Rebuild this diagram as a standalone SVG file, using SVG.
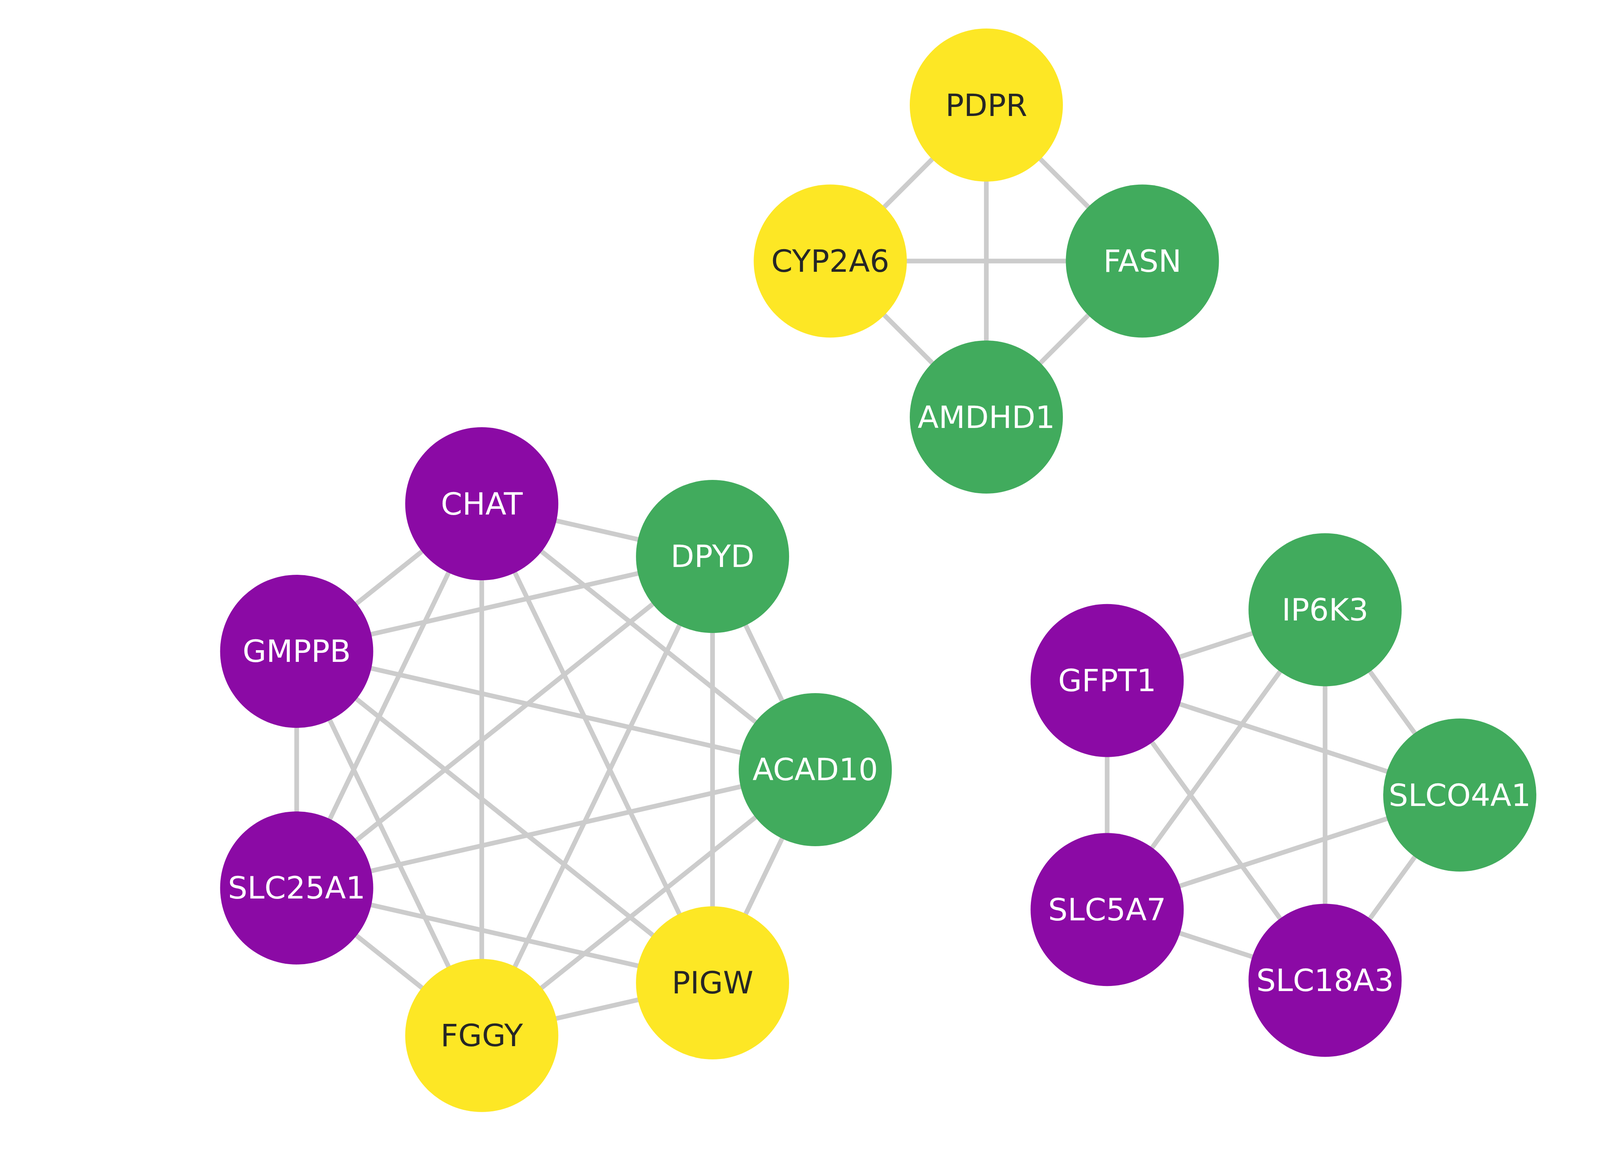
<svg xmlns="http://www.w3.org/2000/svg" width="5175" height="2986" viewBox="0 0 5175 2986">
<style>
  .bg { fill: #ffffff; }
  .edges line { stroke: #cccccc; stroke-width: 12; stroke-linecap: butt; }
  .node circle { stroke: none; }
  .yellow circle { fill: #fde725; }
  .green circle { fill: #41ab5d; }
  .purple circle { fill: #8b0aa5; }
  .node text { font-family: "DejaVu Sans", "Liberation Sans", sans-serif; font-size: 78.5px; text-anchor: middle; }
  .yellow text { fill: #262626; }
  .green text, .purple text { fill: #ffffff; }
</style>
<rect class="bg" x="0" y="0" width="5175" height="2986"/>
<g id="connectors" class="edges">
  <!-- component 1 -->
  <line x1="2525" y1="269" x2="2125.5" y2="668.5"/>
  <line x1="2525" y1="269" x2="2924.5" y2="668.5"/>
  <line x1="2525" y1="269" x2="2525" y2="1068"/>
  <line x1="2125.5" y1="668.5" x2="2924.5" y2="668.5"/>
  <line x1="2125.5" y1="668.5" x2="2525" y2="1068"/>
  <line x1="2924.5" y1="668.5" x2="2525" y2="1068"/>
  <!-- component 2 -->
  <line x1="2087.1" y1="1970.9" x2="1824.1" y2="1424.9"/>
  <line x1="2087.1" y1="1970.9" x2="1233.3" y2="1290"/>
  <line x1="2087.1" y1="1970.9" x2="759.5" y2="1667.9"/>
  <line x1="2087.1" y1="1970.9" x2="759.5" y2="2273.9"/>
  <line x1="2087.1" y1="1970.9" x2="1233.3" y2="2651.8"/>
  <line x1="2087.1" y1="1970.9" x2="1824.1" y2="2516.9"/>
  <line x1="1824.1" y1="1424.9" x2="1233.3" y2="1290"/>
  <line x1="1824.1" y1="1424.9" x2="759.5" y2="1667.9"/>
  <line x1="1824.1" y1="1424.9" x2="759.5" y2="2273.9"/>
  <line x1="1824.1" y1="1424.9" x2="1233.3" y2="2651.8"/>
  <line x1="1824.1" y1="1424.9" x2="1824.1" y2="2516.9"/>
  <line x1="1233.3" y1="1290" x2="759.5" y2="1667.9"/>
  <line x1="1233.3" y1="1290" x2="759.5" y2="2273.9"/>
  <line x1="1233.3" y1="1290" x2="1233.3" y2="2651.8"/>
  <line x1="1233.3" y1="1290" x2="1824.1" y2="2516.9"/>
  <line x1="759.5" y1="1667.9" x2="759.5" y2="2273.9"/>
  <line x1="759.5" y1="1667.9" x2="1233.3" y2="2651.8"/>
  <line x1="759.5" y1="1667.9" x2="1824.1" y2="2516.9"/>
  <line x1="759.5" y1="2273.9" x2="1233.3" y2="2651.8"/>
  <line x1="759.5" y1="2273.9" x2="1824.1" y2="2516.9"/>
  <line x1="1233.3" y1="2651.8" x2="1824.1" y2="2516.9"/>
  <!-- component 3 -->
  <line x1="3737" y1="2036" x2="3392.2" y2="1561.4"/>
  <line x1="3737" y1="2036" x2="2834.3" y2="1742.7"/>
  <line x1="3737" y1="2036" x2="2834.3" y2="2329.3"/>
  <line x1="3737" y1="2036" x2="3392.2" y2="2510.6"/>
  <line x1="3392.2" y1="1561.4" x2="2834.3" y2="1742.7"/>
  <line x1="3392.2" y1="1561.4" x2="2834.3" y2="2329.3"/>
  <line x1="3392.2" y1="1561.4" x2="3392.2" y2="2510.6"/>
  <line x1="2834.3" y1="1742.7" x2="2834.3" y2="2329.3"/>
  <line x1="2834.3" y1="1742.7" x2="3392.2" y2="2510.6"/>
  <line x1="2834.3" y1="2329.3" x2="3392.2" y2="2510.6"/>
</g>
<g id="node-PDPR" class="node yellow"><circle cx="2525" cy="269" r="196"/><text x="2525" y="296.5">PDPR</text></g>
<g id="node-CYP2A6" class="node yellow"><circle cx="2125.5" cy="668.5" r="196"/><text x="2125.5" y="696">CYP2A6</text></g>
<g id="node-FASN" class="node green"><circle cx="2924.5" cy="668.5" r="196"/><text x="2924.5" y="696">FASN</text></g>
<g id="node-AMDHD1" class="node green"><circle cx="2525" cy="1068" r="196"/><text x="2525" y="1095.5">AMDHD1</text></g>

<g id="node-CHAT" class="node purple"><circle cx="1233.3" cy="1290" r="196"/><text x="1233.3" y="1317.5">CHAT</text></g>
<g id="node-DPYD" class="node green"><circle cx="1824.1" cy="1424.9" r="196"/><text x="1824.1" y="1452.4">DPYD</text></g>
<g id="node-GMPPB" class="node purple"><circle cx="759.5" cy="1667.9" r="196"/><text x="759.5" y="1695.4">GMPPB</text></g>
<g id="node-ACAD10" class="node green"><circle cx="2087.1" cy="1970.9" r="196"/><text x="2087.1" y="1998.4">ACAD10</text></g>
<g id="node-SLC25A1" class="node purple"><circle cx="759.5" cy="2273.9" r="196"/><text x="759.5" y="2301.4">SLC25A1</text></g>
<g id="node-PIGW" class="node yellow"><circle cx="1824.1" cy="2516.9" r="196"/><text x="1824.1" y="2544.4">PIGW</text></g>
<g id="node-FGGY" class="node yellow"><circle cx="1233.3" cy="2651.8" r="196"/><text x="1233.3" y="2679.3">FGGY</text></g>

<g id="node-IP6K3" class="node green"><circle cx="3392.2" cy="1561.4" r="196"/><text x="3392.2" y="1588.9">IP6K3</text></g>
<g id="node-GFPT1" class="node purple"><circle cx="2834.3" cy="1742.7" r="196"/><text x="2834.3" y="1770.2">GFPT1</text></g>
<g id="node-SLCO4A1" class="node green"><circle cx="3737" cy="2036" r="196"/><text x="3737" y="2063.5">SLCO4A1</text></g>
<g id="node-SLC5A7" class="node purple"><circle cx="2834.3" cy="2329.3" r="196"/><text x="2834.3" y="2356.8">SLC5A7</text></g>
<g id="node-SLC18A3" class="node purple"><circle cx="3392.2" cy="2510.6" r="196"/><text x="3392.2" y="2538.1">SLC18A3</text></g>
</svg>
